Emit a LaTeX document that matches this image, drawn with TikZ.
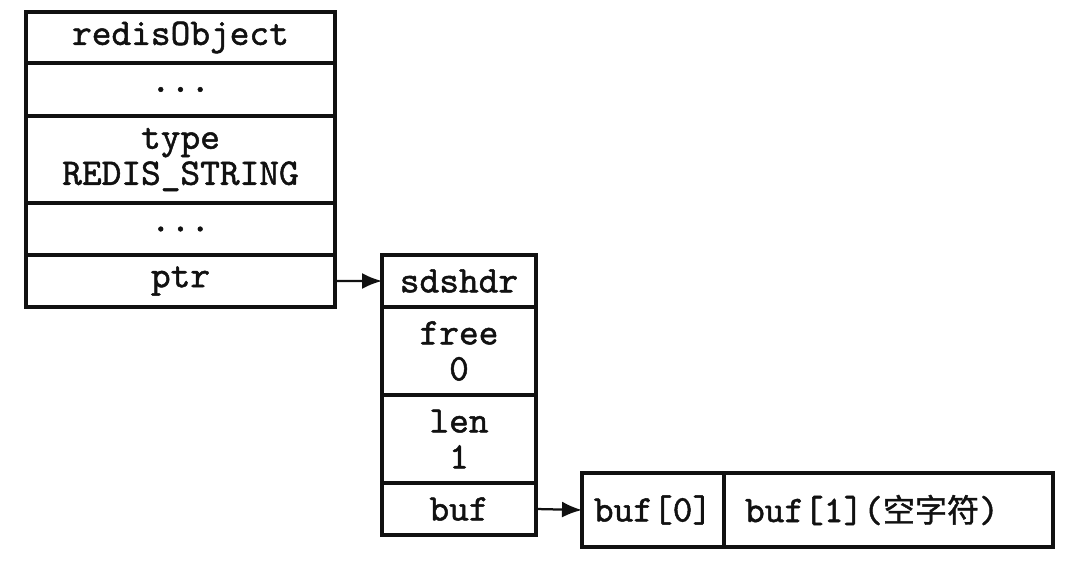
\documentclass[tikz,border=0pt]{standalone}
\usepackage{fontspec}
\usepackage{tikz}
\usetikzlibrary{arrows.meta, positioning}
\newfontfamily\cjk{Noto Sans CJK SC}[FakeBold=1.2]
\newfontfamily\codetype{lmmono10-regular.otf}[FakeBold=1.3]
\newcommand{\codefont}{\codetype\fontsize{26.7pt}{25.6pt}\selectfont}
\definecolor{ink}{HTML}{111111}
\tikzset{
  cell/.style    ={draw=ink, line width=2.2pt, fill=white, outer sep=0pt,
                   inner xsep=0pt, inner ysep=0pt, align=center, font=\codefont, text=ink},
  objcell/.style ={cell, text width=7.725cm},
  sdscell/.style ={cell, text width=3.85cm},
  ptrarrow/.style={-{Latex[length=5mm,width=4mm]}, line width=1.6pt, draw=ink}
}

\begin{document}
\begin{tikzpicture}[node distance=0pt]
  \useasboundingbox (0,0) rectangle (27,-14);
  % redisObject
  \node[objcell, minimum height=1.275cm, anchor=north west] (robj) at (0.65,-0.3) {redisObject};
  \node[objcell, minimum height=1.325cm, below=of robj] (dots1) {...};
  \node[objcell, minimum height=2.175cm, below=of dots1] (type) {type\\REDIS\_STRING};
  \node[objcell, minimum height=1.3cm, below=of type] (dots2) {...};
  \node[objcell, minimum height=1.3cm, below=of dots2] (ptr) {ptr};
  % sdshdr
  \node[sdscell, minimum height=1.3cm, anchor=north west] (sdshdr) at (9.55,-6.375) {sdshdr};
  \node[sdscell, minimum height=2.2cm, below=of sdshdr] (free) {free\\0};
  \node[sdscell, minimum height=2.2cm, below=of free] (len) {len\\1};
  \node[sdscell, minimum height=1.3cm, below=of len] (buf) {buf};
  % buf array
  \node[cell, text width=3.55cm, minimum height=1.85cm, anchor=north west] (buf0) at (14.55,-11.825) {buf[0]};
  \node[cell, text width=7.175cm, inner xsep=0.525cm, align=left, minimum height=1.85cm, right=of buf0] (buf1) {buf[1]({\cjk\fontsize{22.8pt}{25.6pt}\selectfont 空字符})};
  \draw[ptrarrow] (ptr.east) -- (sdshdr.west);
  \draw[ptrarrow] (buf.east) -- (buf0.west);
\end{tikzpicture}
\end{document}
